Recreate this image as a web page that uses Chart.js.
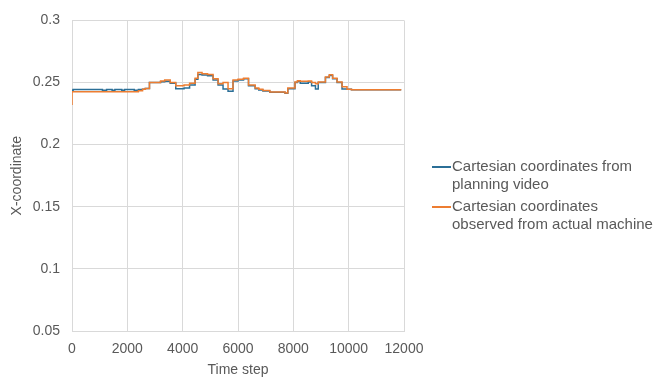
<!DOCTYPE html>
<html>
<head>
<meta charset="utf-8">
<script src="https://cdn.jsdelivr.net/npm/chart.js@4"></script>
<style>
  html, body { margin: 0; padding: 0; background: #fff; }
  #wrap { position: relative; width: 665px; height: 381px; }
  canvas { display: block; }
  #legend { position: absolute; left: 432px; top: 157px; font: 15px "Liberation Sans", Arial, sans-serif; color: #595959; line-height: 18px; }
  .item { position: relative; padding-left: 20px; margin-bottom: 4px; white-space: nowrap; }
  .swatch { position: absolute; left: 0; top: 9px; width: 19px; height: 1.5px; }
</style>
</head>
<body>
<div id="wrap">
  <canvas id="c" width="665" height="381"></canvas>
  <div id="legend"></div>
</div>
<script>
// Step change times (time step) and the X-coordinate held from each time onward
const timeSteps = [0, 40, 1100, 1250, 1450, 1550, 1800, 1900, 2250, 2400, 2550, 2650, 2800, 3200, 3350, 3550, 3750, 4050, 4250, 4450, 4550, 4700, 4900, 5100, 5280, 5460, 5640, 5820, 6000, 6200, 6380, 6620, 6750, 6900, 7150, 7700, 7800, 8060, 8150, 8250, 8540, 8660, 8800, 8900, 9160, 9300, 9420, 9580, 9760, 9940, 10100, 10300, 11900];
const plannedX = [0.2437, 0.2437, 0.2443, 0.2437, 0.2443, 0.2437, 0.2443, 0.2437, 0.2443, 0.2437, 0.2443, 0.2445, 0.2452, 0.2500, 0.2507, 0.2510, 0.2495, 0.2450, 0.2455, 0.2480, 0.2526, 0.2565, 0.2560, 0.2555, 0.2520, 0.2480, 0.2448, 0.2430, 0.2513, 0.2520, 0.2530, 0.2474, 0.2450, 0.2440, 0.2432, 0.2422, 0.2413, 0.2450, 0.2500, 0.2510, 0.2495, 0.2505, 0.2475, 0.2448, 0.2500, 0.2540, 0.2556, 0.2530, 0.2500, 0.2448, 0.2445, 0.2442, 0.2442];
const observedX = [0.2320, 0.2425, 0.2425, 0.2425, 0.2425, 0.2425, 0.2425, 0.2425, 0.2425, 0.2425, 0.2433, 0.2445, 0.2452, 0.2500, 0.2513, 0.2520, 0.2500, 0.2475, 0.2480, 0.2495, 0.2535, 0.2580, 0.2570, 0.2565, 0.2530, 0.2490, 0.2500, 0.2450, 0.2520, 0.2526, 0.2535, 0.2480, 0.2455, 0.2445, 0.2435, 0.2424, 0.2415, 0.2455, 0.2505, 0.2515, 0.2510, 0.2512, 0.2500, 0.2490, 0.2505, 0.2545, 0.2562, 0.2535, 0.2505, 0.2465, 0.2445, 0.2442, 0.2442];
const seriesNames = ["Cartesian coordinates from planning video", "Cartesian coordinates observed from actual machine"];
const legendLines = [["Cartesian coordinates from", "planning video"], ["Cartesian coordinates", "observed from actual machine"]];
const xTicks = [0, 2000, 4000, 6000, 8000, 10000, 12000];
const yTicks = [0.05, 0.1, 0.15, 0.2, 0.25, 0.3];

const blue = "#2b6f97";
const orange = "#ed7d31";
const textColor = "#595959";
const gridColor = "#d9d9d9";
const font = { family: "'Liberation Sans', Arial, sans-serif", size: 14 };

const toPoints = vals => timeSteps.map((t, i) => ({ x: t, y: vals[i] }));

new Chart(document.getElementById("c"), {
  type: "line",
  data: {
    datasets: [
      { label: seriesNames[1], data: toPoints(observedX), borderColor: orange, borderWidth: 1.5, pointRadius: 0, stepped: "after", order: 0 },
      { label: seriesNames[0], data: toPoints(plannedX), borderColor: blue, borderWidth: 1.5, pointRadius: 0, stepped: "after", order: 1 }
    ]
  },
  options: {
    responsive: false,
    animation: false,
    events: [],
    layout: { padding: { top: 12, right: 261, bottom: 0, left: 0 } },
    plugins: { legend: { display: false }, tooltip: { enabled: false } },
    scales: {
      x: {
        type: "linear",
        min: 0, max: 12000,
        afterBuildTicks: s => { s.ticks = xTicks.map(v => ({ value: v })); },
        afterFit: s => { s.height = 50; },
        grid: { color: gridColor, drawTicks: false },
        border: { color: gridColor },
        ticks: { color: textColor, font, padding: 10, maxRotation: 0, callback: v => String(v) },
        title: { display: true, text: "Time step", color: textColor, font, padding: { top: 0, bottom: 2 } }
      },
      y: {
        min: 0.05, max: 0.3,
        afterBuildTicks: s => { s.ticks = yTicks.map(v => ({ value: v })); },
        afterFit: s => { s.width = 72; },
        grid: { color: gridColor, drawTicks: false },
        border: { color: gridColor },
        ticks: { color: textColor, font, padding: 12, callback: v => String(+v.toFixed(2)) },
        title: { display: true, text: "X-coordinate", color: textColor, font, padding: { top: 9, bottom: 0 } }
      }
    }
  }
});

// Legend as real text beside the plot
const legend = document.getElementById("legend");
[blue, orange].forEach((col, i) => {
  const item = document.createElement("div");
  item.className = "item";
  const sw = document.createElement("span");
  sw.className = "swatch";
  sw.style.background = col;
  item.appendChild(sw);
  legendLines[i].forEach(line => {
    const d = document.createElement("div");
    d.textContent = line;
    item.appendChild(d);
  });
  legend.appendChild(item);
});
</script>
</body>
</html>
